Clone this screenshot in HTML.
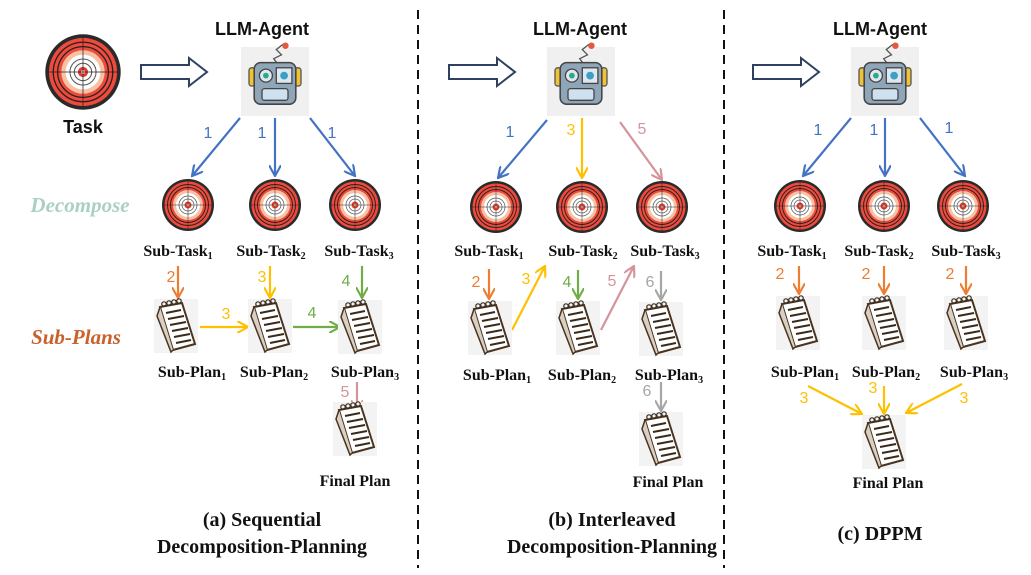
<!DOCTYPE html>
<html><head><meta charset="utf-8"><style>
html,body{margin:0;padding:0;background:#fff;}
svg{display:block;}
.lab{font-family:"Liberation Serif",serif;font-weight:bold;font-size:16px;fill:#111;text-anchor:middle;}
.num{font-family:"Liberation Sans",sans-serif;font-size:16px;text-anchor:middle;}
.cap{font-family:"Liberation Serif",serif;font-weight:bold;font-size:20px;fill:#111;text-anchor:middle;}
.hd{font-family:"Liberation Sans",sans-serif;font-weight:bold;font-size:18px;fill:#111;text-anchor:middle;}
</style></head><body>
<svg width="1031" height="575" viewBox="0 0 1031 575" xmlns="http://www.w3.org/2000/svg">
<defs>
<g id="tgt">
 <circle r="26" fill="#2a2a2a"/>
 <circle r="23.5" fill="#ef4a3c"/>
 <circle r="20.5" fill="none" stroke="#222" stroke-width="0.9"/>
 <circle r="17.5" fill="none" stroke="#222" stroke-width="0.9"/>
 <circle r="15" fill="#f5c2a4"/>
 <circle r="12" fill="#fff"/>
 <circle r="9" fill="none" stroke="#555" stroke-width="0.7"/>
 <circle r="6" fill="none" stroke="#555" stroke-width="0.7"/>
 <circle r="3.5" fill="#e53a2c"/>
 <circle r="1.3" fill="#fff"/>
 <line x1="-24" y1="0" x2="24" y2="0" stroke="#222" stroke-width="0.5"/>
 <line x1="0" y1="-24" x2="0" y2="24" stroke="#222" stroke-width="0.5"/>
</g>
<g id="pad">
 <rect x="-22" y="-27" width="44" height="54" fill="#f3f3f3"/>
 <path d="M-16,-19 L6,-23 L19,18 L-3,24 Z" fill="#fff" stroke="#4a3420" stroke-width="2"/>
 <path d="M-16,-19 L-19,-10 L-5,26 L-3,24" fill="#d9cfc2" stroke="#4a3420" stroke-width="1.5"/>
 <g stroke="#3a2a1a" stroke-width="2">
 <line x1="-10" y1="-13" x2="5" y2="-16"/><line x1="-8" y1="-7" x2="8" y2="-10"/>
 <line x1="-6" y1="-1" x2="10" y2="-4"/><line x1="-4" y1="5" x2="12" y2="2"/>
 <line x1="-2" y1="11" x2="14" y2="8"/><line x1="0" y1="17" x2="15" y2="14"/>
 </g>
 <g fill="none" stroke="#3a2a1a" stroke-width="1.2">
 <circle cx="-12" cy="-22" r="2.2"/><circle cx="-7" cy="-23" r="2.2"/><circle cx="-2" cy="-24" r="2.2"/><circle cx="3" cy="-25" r="2.2"/>
 </g>
</g>
<g id="botin">
 <path d="M2,-17 l-3,-4 l6,-3 l-4,-4 l5,-4" fill="none" stroke="#555" stroke-width="1"/>
 <circle cx="8" cy="-31" r="2.5" fill="#e05a40"/>
 <rect x="-20" y="-14" width="5" height="14" rx="2" fill="#f1c232" stroke="#555"/>
 <rect x="15" y="-14" width="5" height="14" rx="2" fill="#f1c232" stroke="#555"/>
 <rect x="-16" y="-18" width="32" height="32" rx="5" fill="#8fa5b8" stroke="#444" stroke-width="1.2"/>
 <circle cx="-7" cy="-8" r="5" fill="#dfe7ef" stroke="#444"/><circle cx="-7" cy="-8" r="2.2" fill="#2aa88a"/>
 <rect x="1" y="-14" width="12" height="12" fill="#dfe7ef" stroke="#444"/><circle cx="7" cy="-8" r="3" fill="#3aa0c8"/>
 <rect x="-10" y="2" width="20" height="9" rx="2" fill="#cfe0ee" stroke="#444"/>
</g>
<g id="bot">
 <rect x="-34" y="-35" width="68" height="69" fill="#f0f0f0"/>
 <use href="#botin" transform="translate(0,4) scale(1.3)"/>
</g>
<g id="hollow"><path d="M0,-7 L48,-7 L48,-14 L66,0 L48,14 L48,7 L0,7 Z" fill="#fff" stroke="#2f4160" stroke-width="2"/></g>
<marker id="mb" viewBox="0 0 10 10" refX="9" refY="5" markerWidth="12" markerHeight="12" markerUnits="userSpaceOnUse" orient="auto"><path d="M0,0 L9,5 L0,10" fill="none" stroke="#4472c4" stroke-width="1.8"/></marker>
<marker id="mo" viewBox="0 0 10 10" refX="9" refY="5" markerWidth="12" markerHeight="12" markerUnits="userSpaceOnUse" orient="auto"><path d="M0,0 L9,5 L0,10" fill="none" stroke="#ed7d31" stroke-width="1.8"/></marker>
<marker id="my" viewBox="0 0 10 10" refX="9" refY="5" markerWidth="12" markerHeight="12" markerUnits="userSpaceOnUse" orient="auto"><path d="M0,0 L9,5 L0,10" fill="none" stroke="#ffc000" stroke-width="1.8"/></marker>
<marker id="mg" viewBox="0 0 10 10" refX="9" refY="5" markerWidth="12" markerHeight="12" markerUnits="userSpaceOnUse" orient="auto"><path d="M0,0 L9,5 L0,10" fill="none" stroke="#70ad47" stroke-width="1.8"/></marker>
<marker id="mp" viewBox="0 0 10 10" refX="9" refY="5" markerWidth="12" markerHeight="12" markerUnits="userSpaceOnUse" orient="auto"><path d="M0,0 L9,5 L0,10" fill="none" stroke="#d4949b" stroke-width="1.8"/></marker>
<marker id="ma" viewBox="0 0 10 10" refX="9" refY="5" markerWidth="12" markerHeight="12" markerUnits="userSpaceOnUse" orient="auto"><path d="M0,0 L9,5 L0,10" fill="none" stroke="#a6a6a6" stroke-width="1.8"/></marker>
</defs>

<line x1="418" y1="10" x2="418" y2="568" stroke="#111" stroke-width="2" stroke-dasharray="9,6"/>
<line x1="724" y1="10" x2="724" y2="568" stroke="#111" stroke-width="2" stroke-dasharray="9,6"/>

<!-- Panel A -->
<use href="#tgt" transform="translate(83,72) scale(1.45)"/>
<text class="hd" x="83" y="133">Task</text>
<use href="#hollow" x="141" y="72"/>
<text class="hd" x="262" y="35">LLM-Agent</text>
<use href="#bot" x="275" y="82"/>
<text x="80" y="212" font-family="Liberation Serif,serif" font-style="italic" font-weight="bold" font-size="21" fill="#a9d0c3" text-anchor="middle">Decompose</text>
<text x="76" y="344" font-family="Liberation Serif,serif" font-style="italic" font-weight="bold" font-size="21" fill="#c8612a" text-anchor="middle">Sub-Plans</text>
<g stroke-width="2.2" fill="none">
<line x1="240" y1="118" x2="192" y2="176" stroke="#4472c4" marker-end="url(#mb)"/>
<line x1="275" y1="118" x2="275" y2="176" stroke="#4472c4" marker-end="url(#mb)"/>
<line x1="310" y1="118" x2="355" y2="176" stroke="#4472c4" marker-end="url(#mb)"/>
</g>
<text class="num" fill="#4472c4" x="208" y="138">1</text><text class="num" fill="#4472c4" x="262" y="138">1</text><text class="num" fill="#4472c4" x="332" y="138">1</text>
<use href="#tgt" x="188" y="205"/><use href="#tgt" x="275" y="205"/><use href="#tgt" x="355" y="205"/>
<text class="lab" x="178" y="256">Sub-Task<tspan font-size="10" dy="3">1</tspan></text>
<text class="lab" x="271" y="256">Sub-Task<tspan font-size="10" dy="3">2</tspan></text>
<text class="lab" x="359" y="256">Sub-Task<tspan font-size="10" dy="3">3</tspan></text>
<g stroke-width="2.2" fill="none">
<line x1="178" y1="266" x2="178" y2="298" stroke="#ed7d31" marker-end="url(#mo)"/>
<line x1="270" y1="266" x2="270" y2="298" stroke="#ffc000" marker-end="url(#my)"/>
<line x1="362" y1="266" x2="362" y2="298" stroke="#70ad47" marker-end="url(#mg)"/>
<line x1="200" y1="327" x2="248" y2="327" stroke="#ffc000" marker-end="url(#my)"/>
<line x1="293" y1="327" x2="340" y2="327" stroke="#70ad47" marker-end="url(#mg)"/>
<line x1="357" y1="382" x2="357" y2="411" stroke="#d4949b" marker-end="url(#mp)"/>
</g>
<text class="num" fill="#ed7d31" x="171" y="282">2</text><text class="num" fill="#ffc000" x="262" y="282">3</text><text class="num" fill="#70ad47" x="346" y="286">4</text>
<text class="num" fill="#ffc000" x="226" y="319">3</text><text class="num" fill="#70ad47" x="312" y="318">4</text><text class="num" fill="#d4949b" x="345" y="397">5</text>
<use href="#pad" x="176" y="326"/><use href="#pad" x="270" y="326"/><use href="#pad" x="360" y="327"/>
<use href="#pad" x="355" y="429"/>
<text class="lab" x="192" y="377">Sub-Plan<tspan font-size="10" dy="3">1</tspan></text>
<text class="lab" x="274" y="377">Sub-Plan<tspan font-size="10" dy="3">2</tspan></text>
<text class="lab" x="365" y="377">Sub-Plan<tspan font-size="10" dy="3">3</tspan></text>
<text class="lab" x="355" y="486">Final Plan</text>
<text class="cap" x="262" y="526">(a) Sequential</text>
<text class="cap" x="262" y="553">Decomposition-Planning</text>

<!-- Panel B -->
<use href="#hollow" x="449" y="72"/>
<text class="hd" x="580" y="35">LLM-Agent</text>
<use href="#bot" x="581" y="82"/>
<g stroke-width="2.2" fill="none">
<line x1="547" y1="120" x2="498" y2="178" stroke="#4472c4" marker-end="url(#mb)"/>
<line x1="582" y1="118" x2="582" y2="178" stroke="#ffc000" marker-end="url(#my)"/>
<line x1="620" y1="122" x2="662" y2="180" stroke="#d4949b" marker-end="url(#mp)"/>
</g>
<text class="num" fill="#4472c4" x="510" y="137">1</text><text class="num" fill="#ffc000" x="571" y="135">3</text><text class="num" fill="#d4949b" x="642" y="134">5</text>
<use href="#tgt" x="496" y="207"/><use href="#tgt" x="582" y="207"/><use href="#tgt" x="662" y="207"/>
<text class="lab" x="489" y="256">Sub-Task<tspan font-size="10" dy="3">1</tspan></text>
<text class="lab" x="583" y="256">Sub-Task<tspan font-size="10" dy="3">2</tspan></text>
<text class="lab" x="665" y="256">Sub-Task<tspan font-size="10" dy="3">3</tspan></text>
<g stroke-width="2.2" fill="none">
<line x1="489" y1="269" x2="489" y2="299" stroke="#ed7d31" marker-end="url(#mo)"/>
<line x1="512" y1="330" x2="545" y2="266" stroke="#ffc000" marker-end="url(#my)"/>
<line x1="578" y1="270" x2="578" y2="299" stroke="#70ad47" marker-end="url(#mg)"/>
<line x1="601" y1="330" x2="634" y2="266" stroke="#d4949b" marker-end="url(#mp)"/>
<line x1="661" y1="271" x2="661" y2="300" stroke="#a6a6a6" marker-end="url(#ma)"/>
<line x1="661" y1="382" x2="661" y2="411" stroke="#a6a6a6" marker-end="url(#ma)"/>
</g>
<text class="num" fill="#ed7d31" x="476" y="287">2</text><text class="num" fill="#ffc000" x="526" y="284">3</text><text class="num" fill="#70ad47" x="567" y="287">4</text>
<text class="num" fill="#d4949b" x="612" y="286">5</text><text class="num" fill="#a6a6a6" x="650" y="287">6</text><text class="num" fill="#a6a6a6" x="647" y="396">6</text>
<use href="#pad" x="490" y="328"/><use href="#pad" x="578" y="328"/><use href="#pad" x="661" y="329"/>
<use href="#pad" x="661" y="439"/>
<text class="lab" x="497" y="380">Sub-Plan<tspan font-size="10" dy="3">1</tspan></text>
<text class="lab" x="582" y="380">Sub-Plan<tspan font-size="10" dy="3">2</tspan></text>
<text class="lab" x="669" y="380">Sub-Plan<tspan font-size="10" dy="3">3</tspan></text>
<text class="lab" x="668" y="487">Final Plan</text>
<text class="cap" x="612" y="526">(b) Interleaved</text>
<text class="cap" x="612" y="553">Decomposition-Planning</text>

<!-- Panel C -->
<use href="#hollow" x="753" y="72"/>
<text class="hd" x="880" y="35">LLM-Agent</text>
<use href="#bot" x="885" y="82"/>
<g stroke-width="2.2" fill="none">
<line x1="851" y1="118" x2="803" y2="176" stroke="#4472c4" marker-end="url(#mb)"/>
<line x1="885" y1="118" x2="885" y2="176" stroke="#4472c4" marker-end="url(#mb)"/>
<line x1="920" y1="118" x2="965" y2="176" stroke="#4472c4" marker-end="url(#mb)"/>
</g>
<text class="num" fill="#4472c4" x="818" y="135">1</text><text class="num" fill="#4472c4" x="874" y="135">1</text><text class="num" fill="#4472c4" x="949" y="133">1</text>
<use href="#tgt" x="800" y="206"/><use href="#tgt" x="884" y="206"/><use href="#tgt" x="963" y="206"/>
<text class="lab" x="792" y="256">Sub-Task<tspan font-size="10" dy="3">1</tspan></text>
<text class="lab" x="879" y="256">Sub-Task<tspan font-size="10" dy="3">2</tspan></text>
<text class="lab" x="966" y="256">Sub-Task<tspan font-size="10" dy="3">3</tspan></text>
<g stroke-width="2.2" fill="none">
<line x1="799" y1="266" x2="799" y2="294" stroke="#ed7d31" marker-end="url(#mo)"/>
<line x1="884" y1="266" x2="884" y2="294" stroke="#ed7d31" marker-end="url(#mo)"/>
<line x1="966" y1="266" x2="966" y2="294" stroke="#ed7d31" marker-end="url(#mo)"/>
<line x1="808" y1="386" x2="862" y2="414" stroke="#ffc000" marker-end="url(#my)"/>
<line x1="884" y1="386" x2="884" y2="414" stroke="#ffc000" marker-end="url(#my)"/>
<line x1="962" y1="384" x2="906" y2="413" stroke="#ffc000" marker-end="url(#my)"/>
</g>
<text class="num" fill="#ed7d31" x="780" y="279">2</text><text class="num" fill="#ed7d31" x="866" y="279">2</text><text class="num" fill="#ed7d31" x="950" y="279">2</text>
<text class="num" fill="#ffc000" x="804" y="403">3</text><text class="num" fill="#ffc000" x="873" y="393">3</text><text class="num" fill="#ffc000" x="964" y="403">3</text>
<use href="#pad" x="798" y="323"/><use href="#pad" x="884" y="323"/><use href="#pad" x="966" y="323"/>
<use href="#pad" x="884" y="442"/>
<text class="lab" x="805" y="377">Sub-Plan<tspan font-size="10" dy="3">1</tspan></text>
<text class="lab" x="886" y="377">Sub-Plan<tspan font-size="10" dy="3">2</tspan></text>
<text class="lab" x="974" y="377">Sub-Plan<tspan font-size="10" dy="3">3</tspan></text>
<text class="lab" x="888" y="488">Final Plan</text>
<text class="cap" x="880" y="540">(c) DPPM</text>
</svg>
</body></html>
